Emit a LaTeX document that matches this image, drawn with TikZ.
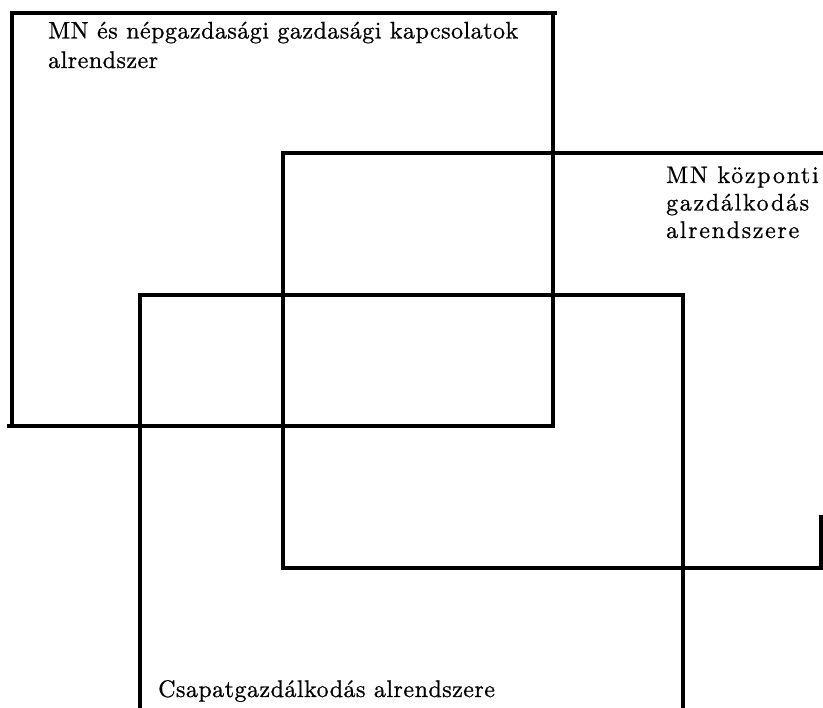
\documentclass[tikz,border=0pt]{standalone}
\usepackage{fontspec}
\newfontfamily\lblfont{lmroman10-regular.otf}[LetterSpace=2,FakeBold=0.8]
\newfontfamily\lblwidefont{lmroman10-regular.otf}[LetterSpace=7,FakeBold=0.8]
\tikzset{
  frame/.style={line width=3.4pt},
  sublabel/.style={anchor=base west,inner sep=0pt,align=left,
    font=\lblfont\fontsize{24}{29.5}\selectfont}
}
\begin{document}
\begin{tikzpicture}[x=1pt,y=-1pt]
\useasboundingbox (0,0) rectangle (823,708);
% nepgazdasagi kapcsolatok
\draw[frame] (557,13)--(12,13)--(12,426)--(553,426)--(553,13);
\draw[frame] (7,426)--(12,426);
% kozponti gazdalkodas
\draw[frame] (823,153)--(283,153)--(283,568)--(821,568)--(821,515);
% csapatgazdalkodas
\draw[frame] (140,708)--(140,295)--(683,295)--(683,708);
\node[sublabel] (nepgazd) at (48,68) {MN és népgazdasági gazdasági kapcsolatok\\alrendszer};
\node[sublabel,font=\lblwidefont\fontsize{24}{27.5}\selectfont] (kozp) at (666,238) {MN központi\\gazdálkodás\\alrendszere};
\node[sublabel] (csapat) at (158,697) {Csapatgazdálkodás alrendszere};
\end{tikzpicture}
\end{document}
